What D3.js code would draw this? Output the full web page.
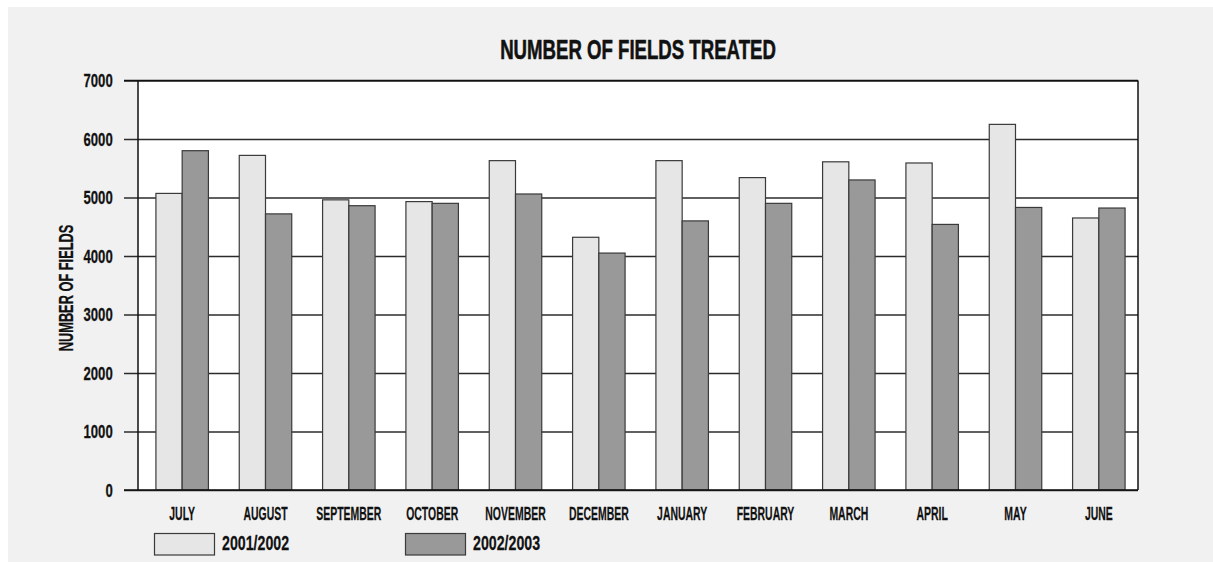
<!DOCTYPE html>
<html>
<head>
<meta charset="utf-8">
<script src="https://cdn.jsdelivr.net/npm/d3@7"></script>
<style>
  html, body { margin: 0; padding: 0; background: #ffffff; }
  svg { display: block; }
  text { font-family: 'Liberation Sans', Arial, sans-serif; font-weight: bold; fill: #111; stroke: #111; stroke-width: 0.25; }
</style>
</head>
<body>
<svg id="chart" width="1213" height="562"></svg>
<script>
// Monthly counts of fields treated, July to June, for two seasons
const months = ["JULY", "AUGUST", "SEPTEMBER", "OCTOBER", "NOVEMBER", "DECEMBER",
                "JANUARY", "FEBRUARY", "MARCH", "APRIL", "MAY", "JUNE"];
const seasons = ["2001/2002", "2002/2003"];
const fields2001 = [5070, 5720, 4960, 4930, 5630, 4320, 5630, 5340, 5610, 5590, 6250, 4650];
const fields2002 = [5800, 4720, 4860, 4900, 5060, 4050, 4600, 4900, 5300, 4540, 4830, 4820];
const yTicks = [0, 1000, 2000, 3000, 4000, 5000, 6000, 7000];

const chartTitle = "NUMBER OF FIELDS TREATED";
const yTitle = "NUMBER OF FIELDS";

const colors = { "2001/2002": "#e6e6e6", "2002/2003": "#999999" };

const svg = d3.select("#chart");
const W = 1213, H = 562;

// plot frame
const plotLeft = 138, plotRight = 1138, plotTop = 80.5, plotBottom = 490;
const tickStart = 124;

// panel background
svg.append("rect").attr("x", 8).attr("y", 7).attr("width", W - 8).attr("height", H - 7)
  .attr("fill", "#f1f1f1");
svg.append("rect").attr("x", plotLeft).attr("y", plotTop)
  .attr("width", plotRight - plotLeft).attr("height", plotBottom - plotTop)
  .attr("fill", "#ffffff");

const rows = months.map((m, i) => ({ month: m, values: [
  { season: seasons[0], value: fields2001[i] },
  { season: seasons[1], value: fields2002[i] }
]}));

const y = d3.scaleLinear().domain([0, 7000]).range([plotBottom, plotTop]);
const x0 = d3.scaleBand().domain(months).range([plotLeft + 2.5, plotRight + 2.5])
  .paddingInner(0.37).paddingOuter(0.185);
const x1 = d3.scaleBand().domain(seasons).range([0, x0.bandwidth()]);

// horizontal grid lines with value labels
const yAxis = svg.append("g")
  .attr("transform", `translate(${tickStart},0)`)
  .call(d3.axisLeft(y).tickValues(yTicks).tickSize(-(plotRight - tickStart)).tickFormat(d3.format("d")));
yAxis.select(".domain").remove();
yAxis.selectAll(".tick line").attr("stroke", "#2b2b2b").attr("stroke-width", 1.3);
yAxis.selectAll(".tick text")
  .attr("x", 0).attr("dy", null).attr("dominant-baseline", "central")
  .attr("text-anchor", "end")
  .attr("transform", "translate(-11.3,0) scale(0.73,1)")
  .style("font-family", "'Liberation Sans', Arial, sans-serif")
  .style("font-weight", "bold")
  .style("font-size", "18px").style("fill", "#111");

// grouped bars
const groups = svg.append("g").selectAll("g").data(rows).join("g")
  .attr("transform", d => `translate(${x0(d.month)},0)`);
groups.selectAll("rect").data(d => d.values).join("rect")
  .attr("x", d => x1(d.season))
  .attr("y", d => y(d.value))
  .attr("width", x1.bandwidth())
  .attr("height", d => y(0) - y(d.value))
  .attr("fill", d => colors[d.season])
  .attr("stroke", "#3a3a3a")
  .attr("stroke-width", 1.2);

// frame edges
const frame = svg.append("g").attr("stroke", "#111").attr("stroke-width", 1.5);
frame.append("line").attr("x1", plotLeft).attr("x2", plotLeft).attr("y1", plotTop).attr("y2", plotBottom);
frame.append("line").attr("x1", plotRight).attr("x2", plotRight).attr("y1", plotTop).attr("y2", plotBottom);
frame.append("line").attr("x1", tickStart).attr("x2", plotRight).attr("y1", plotTop).attr("y2", plotTop);
frame.append("line").attr("x1", tickStart).attr("x2", plotRight).attr("y1", plotBottom).attr("y2", plotBottom);

// month labels
svg.append("g").selectAll("text").data(months).join("text")
  .attr("transform", d => `translate(${x0(d) + x0.bandwidth() / 2},519.5) scale(0.55,1)`)
  .attr("text-anchor", "middle")
  .style("font-size", "19px")
  .text(d => d);

// title
svg.append("text")
  .attr("transform", "translate(638,58.5) scale(0.665,1)")
  .attr("text-anchor", "middle")
  .style("font-size", "28px")
  .style("stroke-width", 0.6)
  .text(chartTitle);

// y-axis title
svg.append("text")
  .attr("transform", "translate(73,288) rotate(-90) scale(0.64,1)")
  .attr("text-anchor", "middle")
  .style("font-size", "20px")
  .text(yTitle);

// legend
const legendX = [154.5, 405.5];
const legend = svg.append("g").selectAll("g").data(seasons).join("g")
  .attr("transform", (d, i) => `translate(${legendX[i]},533.5)`);
legend.append("rect").attr("width", 60).attr("height", 21.5)
  .attr("fill", d => colors[d]).attr("stroke", "#3a3a3a").attr("stroke-width", 1.2);
legend.append("text")
  .attr("transform", "translate(67.5,16.5) scale(0.71,1)")
  .style("font-size", "20px")
  .text(d => d);
</script>
</body>
</html>
